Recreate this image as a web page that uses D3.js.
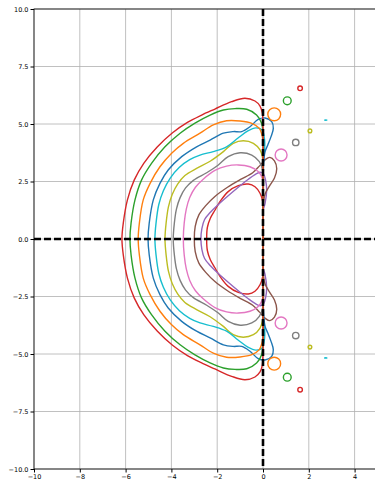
<!DOCTYPE html>
<html>
<head>
<meta charset="utf-8">
<script src="https://cdn.jsdelivr.net/npm/d3@7"></script>
<style>
  body { margin: 0; background: #fff; }
  text { font-family: "DejaVu Sans", sans-serif; }
</style>
</head>
<body>
<div id="graph"></div>
<script>
// upper halves of the boundaries (mirrored below)
const boundary3 = [[-2.46,0],[-2.43,0.5],[-2.3,0.9],[-2.1,1.25],[-1.88,1.62],[-1.52,2.06],[-1.08,2.32],[-0.64,2.39],[-0.35,2.27],[-0.13,1.99],[-0.01,1.62],[0,0.8],[0,0]];
const boundary4 = [[-2.71,0],[-2.67,0.45],[-2.55,0.85],[-2.31,1.15],[-1.95,1.5],[-1.52,1.88],[-1.08,2.25],[-0.64,2.6],[-0.35,2.8],[-0.13,2.90],[0.02,2.83],[0.11,2.57],[0.16,2.13],[0.09,1.55],[0.01,1.26],[0,0.6],[0,0]];
const boundary5 = [[-3.0,0],[-2.96,0.55],[-2.8,1.05],[-2.5,1.45],[-2.1,1.85],[-1.55,2.25],[-1.0,2.58],[-0.45,2.88],[-0.15,3.18],[0.1,3.45],[0.3,3.55],[0.5,3.4],[0.6,3.05],[0.5,2.65],[0.28,2.3],[0.1,1.98],[0.02,1.6],[0,1.0],[0,0]];
const boundary6 = [[-3.48,0],[-3.44,0.7],[-3.35,1.3],[-3.2,1.8],[-2.95,2.25],[-2.61,2.6],[-2.10,2.98],[-1.59,3.17],[-1.08,3.22],[-0.57,3.14],[-0.21,2.93],[-0.03,2.64],[0,2.2],[0,1.0],[0,0]];
const boundary7 = [[-3.92,0],[-3.87,0.7],[-3.78,1.3],[-3.62,1.8],[-3.38,2.22],[-3.04,2.55],[-2.46,2.88],[-1.95,3.22],[-1.52,3.58],[-1.0,3.75],[-0.49,3.65],[-0.16,3.36],[0,2.93],[0,1.5],[0,0]];
const boundary8 = [[-4.28,0],[-4.23,0.7],[-4.13,1.4],[-3.96,1.95],[-3.72,2.4],[-3.41,2.76],[-2.90,3.07],[-2.31,3.38],[-1.73,3.80],[-1.30,4.16],[-0.86,4.27],[-0.42,4.16],[-0.13,3.87],[-0.03,3.58],[0,3.0],[0,1.5],[0,0]];
const boundary9 = [[-4.72,0],[-4.67,0.7],[-4.55,1.5],[-4.35,2.1],[-4.05,2.65],[-3.65,3.12],[-3.2,3.45],[-2.75,3.65],[-2.17,3.80],[-1.59,4.01],[-1.09,4.39],[-0.66,4.70],[-0.31,4.83],[-0.04,4.74],[0.07,4.30],[0.07,3.87],[0.02,3.43],[0,2.5],[0,0]];
const boundary10 = [[-5.02,0],[-4.97,0.68],[-4.79,1.70],[-4.50,2.42],[-4.14,3.0],[-3.55,3.58],[-2.90,4.01],[-2.31,4.30],[-1.73,4.60],[-1.30,4.67],[-0.93,4.67],[-0.57,4.88],[-0.21,5.20],[0.09,5.26],[0.38,5.10],[0.45,4.81],[0.35,4.45],[0.21,4.09],[0.09,3.80],[0.04,3.43],[0.01,2.78],[0,1.5],[0,0]];
const boundary11 = [[-5.45,0],[-5.40,0.68],[-5.23,1.70],[-4.93,2.42],[-4.50,3.14],[-3.99,3.73],[-3.48,4.16],[-2.75,4.60],[-2.17,4.96],[-1.59,5.14],[-1.0,5.13],[-0.49,5.03],[-0.16,4.81],[-0.03,4.45],[0,4.0],[0,2.0],[0,0]];
const boundary12 = [[-5.81,0],[-5.76,0.7],[-5.59,1.7],[-5.30,2.57],[-4.86,3.30],[-4.28,4.01],[-3.62,4.60],[-2.97,5.04],[-2.31,5.39],[-1.73,5.61],[-1.22,5.67],[-0.71,5.64],[-0.28,5.39],[-0.06,5.03],[0,4.5],[0,2.0],[0,0]];
const boundary13 = [[-6.16,0],[-6.10,0.7],[-5.92,1.7],[-5.62,2.57],[-5.20,3.30],[-4.62,4.0],[-3.95,4.62],[-3.30,5.07],[-2.70,5.38],[-2.10,5.65],[-1.37,5.97],[-0.79,6.12],[-0.35,6.0],[-0.13,5.78],[-0.03,5.48],[0,4.9],[0,2.5],[0,0]];
const boundaries = [boundary3, boundary4, boundary5, boundary6, boundary7, boundary8, boundary9, boundary10, boundary11, boundary12, boundary13];
const orders = [3,4,5,6,7,8,9,10,11,12,13];

// small islands right of the imaginary axis (upper ones, mirrored): order, centre, radii
const islandOrder = [6, 7, 8, 9, 11, 12, 13];
const islandX = [0.79, 1.43, 2.05, 2.74, 0.49, 1.06, 1.62];
const islandY = [3.65, 4.20, 4.70, 5.17, 5.42, 6.01, 6.55];
const islandRx = [0.26, 0.14, 0.08, 0.05, 0.28, 0.17, 0.10];
const islandRy = [0.26, 0.14, 0.08, 0.01, 0.28, 0.17, 0.10];

const xTicks = [-10,-8,-6,-4,-2,0,2,4];
const yTicks = [-10,-7.5,-5,-2.5,0,2.5,5,7.5,10];

const tab10 = ["#1f77b4","#ff7f0e","#2ca02c","#d62728","#9467bd","#8c564b","#e377c2","#7f7f7f","#bcbd22","#17becf"];
const color = p => tab10[p % 10];

const width = 375, height = 481;
const marginLeft = 34, marginTop = 9, plotH = 460;
const x = d3.scaleLinear().domain([-10, 5]).range([marginLeft, marginLeft + 15 * 22.9]);
const y = d3.scaleLinear().domain([-10, 10]).range([marginTop + plotH, marginTop]);

const svg = d3.select("#graph").append("svg")
    .attr("width", width)
    .attr("height", height);

svg.append("defs").append("clipPath").attr("id", "clip")
    .append("rect")
    .attr("x", x(-10)).attr("y", y(10))
    .attr("width", x(5) - x(-10)).attr("height", y(-10) - y(10));

// grid
const grid = svg.append("g").attr("stroke", "#b0b0b0").attr("stroke-width", 0.8);
grid.selectAll(".gx").data(xTicks).enter().append("line")
    .attr("x1", d => x(d)).attr("x2", d => x(d))
    .attr("y1", y(-10)).attr("y2", y(10));
grid.selectAll(".gy").data(yTicks).enter().append("line")
    .attr("x1", x(-10)).attr("x2", x(5))
    .attr("y1", d => y(d)).attr("y2", d => y(d));

const plot = svg.append("g").attr("clip-path", "url(#clip)");

const line = d3.line()
    .x(d => x(d[0]))
    .y(d => y(d[1]))
    .curve(d3.curveCatmullRom.alpha(0.5));

boundaries.forEach((half, i) => {
    // from the origin up, round the left side, and back to the origin from below
    const pts = half.slice().reverse().concat(half.slice(1).map(d => [d[0], -d[1]]));
    plot.append("path")
        .attr("d", line(pts))
        .attr("fill", "none")
        .attr("stroke", color(orders[i]))
        .attr("stroke-width", 1.4);
});

islandOrder.forEach((p, i) => {
    [1, -1].forEach(s => {
        plot.append("ellipse")
            .attr("cx", x(islandX[i]))
            .attr("cy", y(s * islandY[i]))
            .attr("rx", x(islandRx[i]) - x(0))
            .attr("ry", y(0) - y(islandRy[i]))
            .attr("fill", "none")
            .attr("stroke", color(p))
            .attr("stroke-width", 1.4);
    });
});

// dashed axes
plot.append("line")
    .attr("x1", x(-10)).attr("x2", x(5))
    .attr("y1", y(0)).attr("y2", y(0))
    .attr("stroke", "#000").attr("stroke-width", 2.6)
    .attr("stroke-dasharray", "7,3");
plot.append("line")
    .attr("x1", x(0)).attr("x2", x(0))
    .attr("y1", y(10)).attr("y2", y(-10))
    .attr("stroke", "#000").attr("stroke-width", 2.6)
    .attr("stroke-dasharray", "7,3");

// axes
const xAxis = d3.axisBottom(x).tickValues(xTicks).tickSize(3.5).tickPadding(2)
    .tickFormat(d => d3.format("d")(d).replace("-", "\u2212"));
const yAxis = d3.axisLeft(y).tickValues(yTicks).tickSize(3.5).tickPadding(2)
    .tickFormat(d => d3.format(".1f")(d).replace("-", "\u2212"));

svg.append("g").attr("transform", `translate(0,${y(-10)})`).call(xAxis)
    .call(g => g.selectAll("text").attr("font-size", 6.5).attr("fill", "#000"));
svg.append("g").attr("transform", `translate(${x(-10)},0)`).call(yAxis)
    .call(g => g.selectAll("text").attr("font-size", 6.5).attr("fill", "#000"));
svg.selectAll(".domain").remove();

// frame
svg.append("rect")
    .attr("x", x(-10)).attr("y", y(10))
    .attr("width", x(5) - x(-10)).attr("height", y(-10) - y(10))
    .attr("fill", "none").attr("stroke", "#000").attr("stroke-width", 0.8);
</script>
</body>
</html>
